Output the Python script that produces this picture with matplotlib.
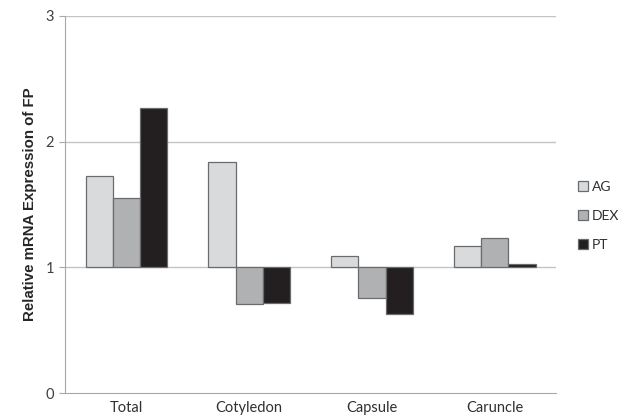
import numpy as np
import matplotlib.pyplot as plt

# data
tissues = ['Total', 'Cotyledon', 'Capsule', 'Caruncle']
ag = [1.73, 1.84, 1.09, 1.17]
dex = [1.55, 0.71, 0.76, 1.23]
pt = [2.27, 0.72, 0.63, 1.03]
series_names = ['AG', 'DEX', 'PT']
baseline = 1.0

colors = ['#d9dadc', '#b0b1b3', '#231f20']
edge = '#6a6b6d'

fig = plt.figure(figsize=(6.2, 4.2), dpi=100)
ax = fig.add_axes([0.105, 0.064, 0.792, 0.898])

x = np.arange(len(tissues))
w = 0.222
for i, vals in enumerate([ag, dex, pt]):
    vals = np.array(vals)
    ax.bar(x + (i - 1) * w, vals - baseline, bottom=baseline, width=w,
           color=colors[i], edgecolor=edge, linewidth=0.9, label=series_names[i], zorder=3)

ax.set_xlim(-0.5, len(tissues) - 0.5)
ax.set_ylim(0, 3)
ax.set_yticks([0, 1, 2, 3])
for yv in [1, 2, 3]:
    ax.axhline(yv, color='#c4c4c4', linewidth=1.0, zorder=1)

for s in ['top', 'right']:
    ax.spines[s].set_visible(False)
ax.spines['left'].set_color('#a8a8a8')
ax.spines['bottom'].set_color('#a8a8a8')
ax.tick_params(axis='y', length=4, color='#a8a8a8', labelsize=10.5, labelcolor='#404040', pad=4)
ax.tick_params(axis='x', length=0, labelsize=10.5, labelcolor='#303030', pad=6)
ax.set_xticks(x)
ax.set_xticklabels(tissues, fontfamily='Lato')
for lab in ax.get_yticklabels():
    lab.set_fontfamily('Lato')

ax.set_ylabel('Relative mRNA Expression of FP', fontsize=10.8, fontweight='bold',
              fontfamily='Liberation Sans', color='#262626', labelpad=6)

leg = ax.legend(loc='center left', bbox_to_anchor=(1.02, 0.47), frameon=False,
                handlelength=0.7, handleheight=0.7, handletextpad=0.25,
                labelspacing=1.2, prop={'family': 'Lato', 'size': 10})
for t in leg.get_texts():
    t.set_color('#303030')

fig.savefig('out.png', dpi=100)
